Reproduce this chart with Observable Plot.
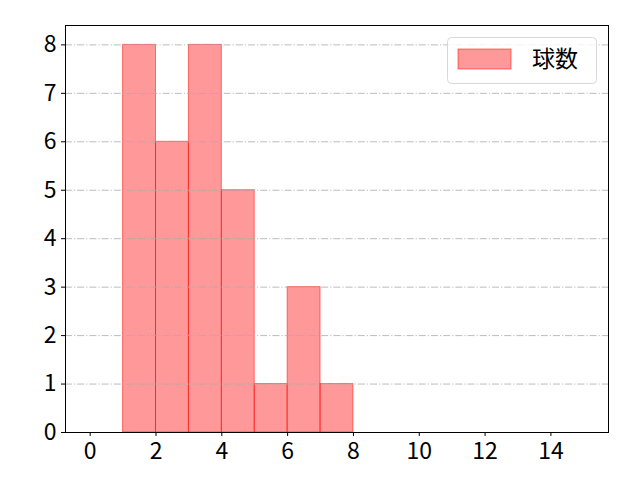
<!DOCTYPE html>
<html>
<head>
<meta charset="utf-8">
<script src="https://cdn.jsdelivr.net/npm/d3@7"></script>
<script src="https://cdn.jsdelivr.net/npm/@observablehq/plot@0.6"></script>
<style>
body { margin: 0; background: #fff; }
#chart { position: relative; width: 640px; height: 480px; }
#chart svg text { font-size: 23px !important; font-weight: 400; font-family: "Noto Sans CJK JP", "DejaVu Sans", sans-serif !important; fill: #000; }
</style>
</head>
<body>
<div id="chart"></div>
<script>
const binStart = [1, 2, 3, 4, 5, 6, 7];
const binEnd = [2, 3, 4, 5, 6, 7, 8];
const counts = [8, 6, 8, 5, 1, 3, 1];
const xTicks = [0, 2, 4, 6, 8, 10, 12, 14];
const yTicks = [0, 1, 2, 3, 4, 5, 6, 7, 8];
const legendLabel = "球数";

const bins = binStart.map((s, i) => ({x1: s, x2: binEnd[i], y: counts[i]}));

const plot = Plot.plot({
  width: 640,
  height: 480,
  marginLeft: 65,
  marginRight: 32,
  marginTop: 25,
  marginBottom: 48,
  style: {color: "#000", overflow: "visible"},
  x: {domain: [-0.75, 15.75], label: null},
  y: {domain: [0, 8.4], label: null},
  marks: [
    Plot.rectY(bins, {x1: "x1", x2: "x2", y: "y", fill: "#ff0000", fillOpacity: 0.4, stroke: "#ff0000", strokeOpacity: 0.5, strokeWidth: 1}),
    Plot.ruleY(yTicks.filter(d => d > 0), {stroke: "#aaaaaa", strokeWidth: 0.8, strokeDasharray: "7,2,1.2,2"}),
    Plot.axisX({ticks: xTicks, tickSize: 4, tickPadding: 6, label: null, tickFormat: d => String(d)}),
    Plot.axisY({ticks: yTicks, tickSize: 4, tickPadding: 5, label: null, tickFormat: d => String(d)}),
    Plot.frame({stroke: "#000", strokeWidth: 1})
  ]
});

document.getElementById("chart").appendChild(plot);

// legend inside the axes, upper right
const svg = d3.select(plot);
const g = svg.append("g");
g.append("rect").attr("x", 447.5).attr("y", 37.5).attr("width", 149).attr("height", 46)
  .attr("rx", 4).attr("fill", "#fff").attr("fill-opacity", 0.8).attr("stroke", "#d8d8d8");
g.append("rect").attr("x", 458).attr("y", 49).attr("width", 53).attr("height", 20)
  .attr("fill", "#ff0000").attr("fill-opacity", 0.4).attr("stroke", "#ff0000").attr("stroke-opacity", 0.5);
g.append("text").attr("x", 532).attr("y", 59).attr("dy", "0.35em").attr("text-anchor", "start")
  .text(legendLabel);
</script>
</body>
</html>
